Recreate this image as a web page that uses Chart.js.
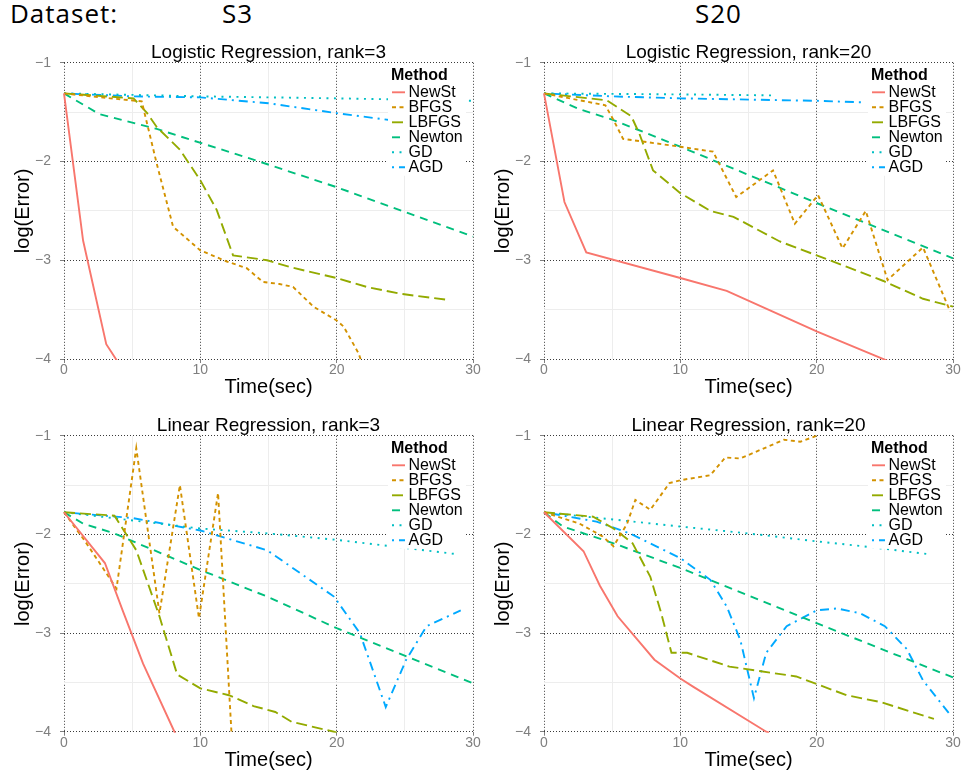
<!DOCTYPE html>
<html><head><meta charset="utf-8">
<script src="https://cdn.jsdelivr.net/npm/chart.js@4.4.1/dist/chart.umd.min.js"></script>
<style>
html,body{margin:0;padding:0;background:#fff;}
body{width:962px;height:775px;position:relative;overflow:hidden;}
.hdr{position:absolute;top:0;font-family:"Open Sans",sans-serif;font-size:26px;line-height:26px;color:#000;white-space:nowrap;letter-spacing:1px;}
canvas{position:absolute;}
</style></head>
<body>
<div class="hdr" id="h0" style="left:10px"></div>
<div class="hdr" id="h1" style="left:222px"></div>
<div class="hdr" id="h2" style="left:695px"></div>
<canvas id="c0" width="483" height="360" style="left:0px;top:40px"></canvas>
<canvas id="c1" width="483" height="360" style="left:480px;top:40px"></canvas>
<canvas id="c2" width="483" height="362" style="left:0px;top:413px"></canvas>
<canvas id="c3" width="483" height="362" style="left:480px;top:413px"></canvas>
<script>
// ---------- text ----------
const headerLabels = ['Dataset:', 'S3', 'S20'];
const panelTitles = ['Logistic Regression, rank=3', 'Logistic Regression, rank=20', 'Linear Regression, rank=3', 'Linear Regression, rank=20'];
const methods = ['NewSt', 'BFGS', 'LBFGS', 'Newton', 'GD', 'AGD'];
const legendTitle = 'Method';
const xTitle = 'Time(sec)';
const yTitle = 'log(Error)';
const xTickValues = [0, 10, 20, 30];
const xTickLabels = ['0', '10', '20', '30'];
const yTickValues = [-1, -2, -3, -4];
const yTickLabels = ['\u22121', '\u22122', '\u22123', '\u22124'];

// ---------- data: Logistic Regression, rank=3 ----------
const lg3_NewSt_t = [0, 1.4, 3.1, 3.9];
const lg3_NewSt_e = [-1.31, -2.80, -3.85, -4.02];
const lg3_BFGS_t = [0, 3.4, 5.7, 6.8, 8.0, 10.0, 11.9, 13.4, 14.6, 15.8, 16.8, 18.3, 20.0, 20.5, 21.6, 21.8];
const lg3_BFGS_e = [-1.31, -1.36, -1.39, -2.02, -2.66, -2.90, -3.01, -3.08, -3.22, -3.24, -3.27, -3.47, -3.61, -3.67, -3.94, -4.02];
const lg3_LBFGS_t = [0, 5.1, 6.1, 6.8, 8.5, 10.0, 11.2, 12.4, 14.9, 16.6, 20.0, 22.2, 24.7, 28.1];
const lg3_LBFGS_e = [-1.31, -1.36, -1.51, -1.65, -1.88, -2.19, -2.49, -2.95, -3.00, -3.07, -3.18, -3.27, -3.34, -3.40];
const lg3_Newton_t = [0, 2.6, 6.8, 14.1, 20, 30];
const lg3_Newton_e = [-1.31, -1.52, -1.67, -1.99, -2.26, -2.76];
const lg3_GD_t = [0, 10, 20, 30];
const lg3_GD_e = [-1.31, -1.34, -1.36, -1.385];
const lg3_AGD_t = [0, 5, 10, 15, 20, 25, 28];
const lg3_AGD_e = [-1.31, -1.34, -1.35, -1.41, -1.51, -1.60, -1.67];

// ---------- data: Logistic Regression, rank=20 ----------
const lg20_NewSt_t = [0, 1.5, 3.1, 10.0, 13.4, 20.0, 24.9, 25.2];
const lg20_NewSt_e = [-1.31, -2.41, -2.92, -3.18, -3.31, -3.72, -4.0, -4.02];
const lg20_BFGS_t = [0, 4.5, 5.1, 5.8, 10.0, 12.4, 14.1, 16.8, 18.4, 20.1, 21.9, 23.6, 25.2, 27.8, 29.8];
const lg20_BFGS_e = [-1.31, -1.43, -1.58, -1.77, -1.85, -1.90, -2.36, -2.09, -2.63, -2.34, -2.88, -2.50, -3.20, -2.87, -3.52];
const lg20_LBFGS_t = [0, 4.6, 6.4, 7.0, 8.0, 10.0, 12.2, 13.9, 17.3, 20.0, 24.9, 27.8, 30];
const lg20_LBFGS_e = [-1.31, -1.38, -1.54, -1.72, -2.09, -2.32, -2.50, -2.56, -2.81, -2.95, -3.21, -3.39, -3.47];
const lg20_Newton_t = [0, 2.6, 5.1, 10.0, 20.0, 30];
const lg20_Newton_e = [-1.31, -1.47, -1.58, -1.85, -2.42, -2.98];
const lg20_GD_t = [0, 10, 16.9];
const lg20_GD_e = [-1.31, -1.32, -1.33];
const lg20_AGD_t = [0, 5, 10, 20, 23.3];
const lg20_AGD_e = [-1.31, -1.34, -1.36, -1.385, -1.40];

// ---------- data: Linear Regression, rank=3 ----------
const ln3_NewSt_t = [0, 3.0, 4.3, 5.8, 8.1, 8.3];
const ln3_NewSt_e = [-1.775, -2.29, -2.77, -3.31, -4.0, -4.05];
const ln3_BFGS_t = [0, 1.5, 2.9, 3.85, 5.3, 7.0, 8.5, 9.9, 11.3, 12.3];
const ln3_BFGS_e = [-1.775, -2.06, -2.35, -2.55, -1.125, -2.80, -1.50, -2.85, -1.58, -4.05];
const ln3_LBFGS_t = [0, 3.7, 5.3, 7.0, 8.3, 10.0, 12.1, 13.9, 15.5, 16.7, 19.8, 20.0];
const ln3_LBFGS_e = [-1.775, -1.81, -2.16, -2.83, -3.42, -3.56, -3.63, -3.74, -3.80, -3.90, -4.0, -4.01];
const ln3_Newton_t = [0, 1.4, 3.7, 10.0, 14.9, 20.0, 30];
const ln3_Newton_e = [-1.775, -1.89, -1.99, -2.36, -2.63, -2.95, -3.51];
const ln3_GD_t = [0, 10, 15, 20, 23.4, 28.8];
const ln3_GD_e = [-1.775, -1.94, -1.99, -2.055, -2.11, -2.20];
const ln3_AGD_t = [0, 5.1, 10.0, 14.9, 19.8, 21.7, 23.6, 25.1, 26.6, 29.1];
const ln3_AGD_e = [-1.775, -1.835, -1.96, -2.16, -2.63, -3.0, -3.75, -3.27, -2.93, -2.77];

// ---------- data: Linear Regression, rank=20 ----------
const ln20_NewSt_t = [0, 2.9, 4.1, 5.4, 8.1, 10.0, 10.9, 16.3, 16.5];
const ln20_NewSt_e = [-1.775, -2.17, -2.52, -2.83, -3.27, -3.46, -3.54, -4.0, -4.01];
const ln20_BFGS_t = [0, 2.6, 4.3, 5.1, 6.1, 6.7, 7.8, 9.2, 10.0, 12.2, 13.3, 14.4, 17.6, 18.8, 20.0];
const ln20_BFGS_e = [-1.775, -1.89, -2.02, -2.12, -1.89, -1.65, -1.75, -1.48, -1.45, -1.40, -1.22, -1.23, -1.04, -1.06, -1.0];
const ln20_LBFGS_t = [0, 3.6, 5.1, 6.5, 7.8, 8.6, 9.35, 10.5, 13.6, 18.5, 22.2, 24.7, 28.6];
const ln20_LBFGS_e = [-1.775, -1.82, -1.94, -2.09, -2.43, -2.80, -3.20, -3.20, -3.34, -3.44, -3.63, -3.70, -3.87];
const ln20_Newton_t = [0, 1.4, 5.1, 10.0, 20.0, 30];
const ln20_Newton_e = [-1.775, -1.92, -2.09, -2.34, -2.90, -3.45];
const ln20_GD_t = [0, 10, 15, 20, 23.4, 28.2];
const ln20_GD_e = [-1.775, -1.92, -1.99, -2.07, -2.12, -2.20];
const ln20_AGD_t = [0, 3.85, 6.3, 10.0, 12.2, 13.4, 14.4, 15.4, 16.3, 17.8, 20.0, 21.5, 23.2, 25.0, 26.6, 27.8, 29.8];
const ln20_AGD_e = [-1.775, -1.87, -1.99, -2.24, -2.46, -2.73, -3.07, -3.66, -3.20, -2.93, -2.77, -2.75, -2.80, -2.93, -3.16, -3.48, -3.83];

// ---------- styles ----------
const methodColors = ['#F8766D', '#D39200', '#93AA00', '#00BF7D', '#00BFC4', '#00A9FF'];
const methodDash = [[], [4, 3.5], [11, 5], [8, 6], [2, 5.5], [2, 5, 9, 5]];
const FONT = '"Liberation Sans", Arial, sans-serif';

const panelSeries = [
  [[lg3_NewSt_t, lg3_NewSt_e], [lg3_BFGS_t, lg3_BFGS_e], [lg3_LBFGS_t, lg3_LBFGS_e], [lg3_Newton_t, lg3_Newton_e], [lg3_GD_t, lg3_GD_e], [lg3_AGD_t, lg3_AGD_e]],
  [[lg20_NewSt_t, lg20_NewSt_e], [lg20_BFGS_t, lg20_BFGS_e], [lg20_LBFGS_t, lg20_LBFGS_e], [lg20_Newton_t, lg20_Newton_e], [lg20_GD_t, lg20_GD_e], [lg20_AGD_t, lg20_AGD_e]],
  [[ln3_NewSt_t, ln3_NewSt_e], [ln3_BFGS_t, ln3_BFGS_e], [ln3_LBFGS_t, ln3_LBFGS_e], [ln3_Newton_t, ln3_Newton_e], [ln3_GD_t, ln3_GD_e], [ln3_AGD_t, ln3_AGD_e]],
  [[ln20_NewSt_t, ln20_NewSt_e], [ln20_BFGS_t, ln20_BFGS_e], [ln20_LBFGS_t, ln20_LBFGS_e], [ln20_Newton_t, ln20_Newton_e], [ln20_GD_t, ln20_GD_e], [ln20_AGD_t, ln20_AGD_e]]
];

headerLabels.forEach((t, i) => { document.getElementById('h' + i).textContent = t; });

const legendPlugin = {
  id: 'methodLegend',
  afterDatasetsDraw(chart) {
    const {ctx, chartArea: a} = chart;
    const x0 = a.right - 82;
    const y0 = a.top;
    ctx.save();
    ctx.fillStyle = '#ffffff';
    ctx.fillRect(x0 - 3, y0 + 2, 78, 111);
    ctx.textBaseline = 'middle';
    ctx.textAlign = 'left';
    ctx.fillStyle = '#000';
    ctx.font = 'bold 16px ' + FONT;
    ctx.fillText(legendTitle, x0, y0 + 12.5);
    chart.data.datasets.forEach((ds, i) => {
      const y = y0 + 29.5 + i * 15;
      ctx.strokeStyle = ds.borderColor;
      ctx.lineWidth = ds.borderWidth;
      ctx.setLineDash(ds.borderDash || []);
      ctx.beginPath();
      ctx.moveTo(x0 + 1, y);
      ctx.lineTo(x0 + 14, y);
      ctx.stroke();
      ctx.setLineDash([]);
      ctx.fillStyle = '#000';
      ctx.font = '16px ' + FONT;
      ctx.fillText(ds.label, x0 + 17.5, y);
    });
    ctx.restore();
  }
};

const isMajorX = v => xTickValues.indexOf(v) >= 0;
const isMajorY = v => yTickValues.indexOf(v) >= 0;

function makeChart(idx, xScaleHeight, xTitlePadBottom) {
  const datasets = panelSeries[idx].map((s, k) => ({
    label: methods[k],
    data: s[0].map((t, j) => ({x: t, y: s[1][j]})),
    borderColor: methodColors[k],
    backgroundColor: methodColors[k],
    borderWidth: 1.9,
    borderDash: methodDash[k],
    borderCapStyle: 'butt',
    pointRadius: 0,
    tension: 0,
    fill: false,
    clip: 1
  }));
  return new Chart(document.getElementById('c' + idx), {
    type: 'line',
    data: {datasets},
    plugins: [legendPlugin],
    options: {
      responsive: false,
      animation: false,
      devicePixelRatio: 1,
      layout: {padding: {left: 0, top: 0, right: 10, bottom: 0}},
      plugins: {
        legend: {display: false},
        tooltip: {enabled: false},
        title: {display: true, fullSize: false, text: panelTitles[idx], color: '#000', font: {family: FONT, size: 19, weight: 'normal', lineHeight: 1.2}, padding: {top: 1, bottom: -1}}
      },
      scales: {
        x: {
          type: 'linear', min: 0, max: 30,
          afterFit(s) { s.height = xScaleHeight; },
          ticks: {stepSize: 5, autoSkip: false, maxRotation: 0, padding: 0, color: '#7F7F7F', font: {family: FONT, size: 14, lineHeight: 1},
            callback: v => { const i = xTickValues.indexOf(v); return i >= 0 ? xTickLabels[i] : ''; }},
          grid: {
            color: c => isMajorX(c.tick.value) ? '#3a3a3a' : '#EDEDED',
            lineWidth: 1,
            tickLength: 4,
            tickColor: c => isMajorX(c.tick.value) ? '#7F7F7F' : 'rgba(0,0,0,0)',
            tickBorderDash: [],
            tickWidth: 1
          },
          border: {display: false, dash: c => isMajorX(c.tick.value) ? [1, 2] : []},
          title: {display: true, text: xTitle, color: '#000', font: {family: FONT, size: 20, lineHeight: 1.2}, padding: {top: 0, bottom: xTitlePadBottom}}
        },
        y: {
          type: 'linear', min: -4, max: -1,
          afterFit(s) { s.width = 64; },
          ticks: {stepSize: 0.5, autoSkip: false, padding: 9, color: '#7F7F7F', font: {family: FONT, size: 14, lineHeight: 1.2},
            callback: v => { const i = yTickValues.indexOf(v); return i >= 0 ? yTickLabels[i] : ''; }},
          grid: {
            color: c => isMajorY(c.tick.value) ? '#3a3a3a' : '#EDEDED',
            lineWidth: 1,
            tickLength: 4,
            tickColor: c => isMajorY(c.tick.value) ? '#7F7F7F' : 'rgba(0,0,0,0)',
            tickBorderDash: [],
            tickWidth: 1
          },
          border: {display: false, dash: c => isMajorY(c.tick.value) ? [1, 2] : []},
          title: {display: true, text: yTitle, color: '#000', font: {family: FONT, size: 20, lineHeight: 1.2}, padding: {top: 11, bottom: 0}}
        }
      }
    }
  });
}

makeChart(0, 41, 1);
makeChart(1, 41, 1);
makeChart(2, 43.3, 3);
makeChart(3, 43.3, 3);
</script>
</body></html>
